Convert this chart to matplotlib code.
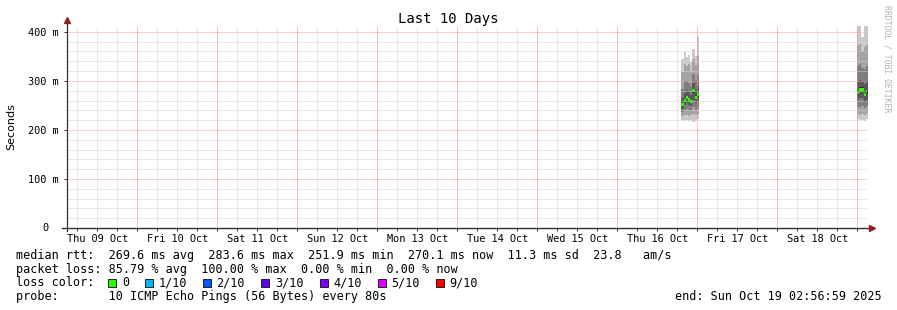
import datetime as dt
import matplotlib
matplotlib.use("Agg")
from matplotlib import pyplot
import matplotlib.dates as mdates
from matplotlib.patches import Rectangle
from matplotlib.ticker import FuncFormatter

W, H = 897, 310

start = dt.datetime(2025, 10, 9, 2, 56, 59)
end = dt.datetime(2025, 10, 19, 2, 56, 59)
step = dt.timedelta(minutes=40)

# replies came back only in two short bursts; 10 sorted pings per step (ms)
burst1_start = dt.datetime(2025, 10, 16, 19, 10)
burst1_pings = [
    [220, 228, 236, 243, 250, 254, 265, 284, 318, 345],
    [219, 230, 240, 250, 258, 264, 276, 298, 335, 358],
    [221, 231, 242, 254, 264, 270, 281, 300, 330, 348],
    [218, 229, 240, 251, 260, 266, 279, 296, 334, 352],
    [220, 230, 239, 248, 255, 261, 272, 290, 320, 338],
    [217, 232, 246, 262, 276, 284, 296, 315, 345, 366],
    [219, 230, 241, 254, 263, 271, 283, 302, 332, 350],
    [222, 233, 245, 258, 268, 276, 290, 312, 350, 390],
]
burst1_loss = [0, 0, 0, 0, 0, 0, 0, 0]

burst2_start = dt.datetime(2025, 10, 18, 23, 50)
burst2_pings = [
    [222, 233, 246, 262, 272, 280, 298, 330, 372, 416],
    [220, 231, 247, 265, 279, 287, 302, 334, 375, 420],
    [221, 232, 248, 266, 279, 287, 300, 326, 360, 390],
    [219, 230, 244, 258, 269, 277, 293, 325, 370, 420],
    [223, 234, 248, 262, 274, 282, 298, 330, 374, 418],
]
burst2_loss = [0, 0, 0, 0, 0]

loss_labels = ["0", "1/10", "2/10", "3/10", "4/10", "5/10", "9/10"]
loss_colors = ["#26ff00", "#00b8ff", "#0059ff", "#5e00ff", "#7e00ff", "#dd00ff", "#ff0000"]
loss_steps = [0, 1, 2, 3, 4, 5, 9]

y_ticks = [0, 100, 200, 300, 400]
y_labels = ["", "100 m", "200 m", "300 m", "400 m"]

stats_rtt = "median rtt:  269.6 ms avg  283.6 ms max  251.9 ms min  270.1 ms now  11.3 ms sd  23.8   am/s"
stats_loss = "packet loss: 85.79 % avg  100.00 % max  0.00 % min  0.00 % now"
probe_text = "probe:       10 ICMP Echo Pings (56 Bytes) every 80s"
end_text = "end: Sun Oct 19 02:56:59 2025"

pyplot.rcParams["font.family"] = ["DejaVu Sans Mono"]

MONO = "DejaVu Sans Mono"
GRID = "#d4d4d4"
MGRID = "#ff9c9c"
VGRID = "#ff7878"
DOTS = (0, (1, 1))
ARROW = "#902020"
AXIS = "#303030"


def fx(x):
    return x / W


def fy(y):
    return 1 - y / H


def draw_smoke(ax, t0, pings, loss):
    x = [mdates.date2num(t0 + i * step) for i in range(len(pings) + 1)]
    w = step / dt.timedelta(days=1)
    n = len(pings[0])
    half = n // 2
    for i in range(half):
        grey = int(190 / half * (half - i - 1)) + 50
        lo = [p[i] for p in pings]
        hi = [p[n - 1 - i] for p in pings]
        ax.fill_between(x, lo + lo[-1:], hi + hi[-1:], step="post",
                        color="#%02x%02x%02x" % (grey, grey, grey), linewidth=0, zorder=2)
    med = [(p[half - 1] + p[half]) / 2 for p in pings]
    swidth = 3.0
    cols = [loss_colors[loss_steps.index(l)] for l in loss]
    ax.bar(x[:-1], [2 * swidth] * len(med), bottom=[m - swidth for m in med], width=w,
           align="edge", color=cols, linewidth=0, zorder=4)


def noon_label(v, pos):
    d = mdates.num2date(v)
    return d.strftime("%a %d %b") if d.hour == 12 else ""


fig = pyplot.figure(figsize=(W / 100, H / 100), dpi=100)
fig.patch.set_facecolor("white")
ax = fig.add_axes([fx(67.3), fy(228), 800 / W, 202 / H])
ax.set_facecolor("white")

ax.set_xlim(mdates.date2num(start), mdates.date2num(end))
ax.set_ylim(0, 412)

draw_smoke(ax, burst1_start, burst1_pings, burst1_loss)
draw_smoke(ax, burst2_start, burst2_pings, burst2_loss)

for s in ax.spines.values():
    s.set_visible(False)

# x axis: red grid at midnight, gray grid every 6 h, labels at noon
ax.xaxis.set_major_locator(mdates.DayLocator())
ax.xaxis.set_major_formatter(FuncFormatter(lambda v, p: ""))
ax.xaxis.set_minor_locator(mdates.HourLocator(byhour=[6, 12, 18]))
ax.xaxis.set_minor_formatter(FuncFormatter(noon_label))
ax.tick_params(axis="x", which="major", length=2, width=0.7, color=AXIS, direction="out")
ax.tick_params(axis="x", which="minor", length=2, width=0.7, color=AXIS, direction="out",
               pad=2.5, labelsize=7.4, labelcolor="black")
ax.grid(True, axis="x", which="minor", color=GRID, linestyle=DOTS, linewidth=0.72)
ax.grid(True, axis="x", which="major", color=VGRID, linestyle=DOTS, linewidth=0.72)

ax.set_yticks(y_ticks)
ax.set_yticklabels(y_labels)
ax.set_yticks([v for v in range(0, 412, 20) if v % 100], minor=True)
ax.tick_params(axis="y", which="major", length=2, width=0.7, color=AXIS, pad=4,
               labelsize=7.4, direction="out")
ax.tick_params(axis="y", which="minor", length=0)
ax.grid(True, axis="y", which="minor", color=GRID, linestyle=DOTS, linewidth=0.72)
ax.grid(True, axis="y", which="major", color=MGRID, linestyle=DOTS, linewidth=0.72)
ax.set_axisbelow(False)
ax.annotate("0", xy=(0, 0), xycoords=("axes fraction", "data"), xytext=(-18.5, 0),
            textcoords="offset pixels", ha="right", va="center", fontsize=7.4)

# axis lines with arrow heads
ax.plot([-5 / 800, 801 / 800], [0, 0], transform=ax.transAxes, color=AXIS,
        linewidth=1.0, clip_on=False, zorder=5)
ax.plot([0, 0], [-3 / 202, 1.0 + 2 / 202], transform=ax.transAxes, color=AXIS,
        linewidth=0.9, clip_on=False, zorder=5)
ax.plot([1 + 4.5 / 800], [0], transform=ax.transAxes, marker=">", markersize=4.5,
        color=ARROW, clip_on=False, zorder=6)
ax.plot([0], [1 + 6 / 202], transform=ax.transAxes, marker="^", markersize=4.5,
        color=ARROW, clip_on=False, zorder=6)

fig.text(fx(448.5), fy(23.5), "Last 10 Days", ha="center", va="baseline",
         fontsize=10, family=MONO)
fig.text(fx(11), fy(127), "Seconds", rotation=90, ha="center", va="center",
         fontsize=8, family="DejaVu Sans")
fig.text(fx(887), fy(5), "RRDTOOL / TOBI OETIKER", rotation=270, ha="center",
         va="top", fontsize=5.9, color="#b4b4b4", family=MONO)

fs = 8.5
fig.text(fx(16), fy(259), stats_rtt, fontsize=fs, va="baseline", family=MONO)
fig.text(fx(16), fy(272.5), stats_loss, fontsize=fs, va="baseline", family=MONO)
fig.text(fx(16), fy(286.5), "loss color:", fontsize=fs, va="baseline", family=MONO)
label_x = [122, 158.5, 216.5, 275, 333.5, 391.5, 449.5]
for lx, lab, col in zip(label_x, loss_labels, loss_colors):
    fig.add_artist(Rectangle((fx(lx - 14), fy(286.5)), 8 / W, 8 / H,
                             transform=fig.transFigure, facecolor=col,
                             edgecolor="#202020", linewidth=0.7))
    fig.text(fx(lx), fy(286.5), lab, fontsize=fs, va="baseline", family=MONO)
fig.text(fx(16), fy(300), probe_text, fontsize=fs, va="baseline", family=MONO)
fig.text(fx(881.5), fy(300), end_text, fontsize=fs, va="baseline", ha="right", family=MONO)

fig.savefig("out.png", dpi=100, facecolor="white")
